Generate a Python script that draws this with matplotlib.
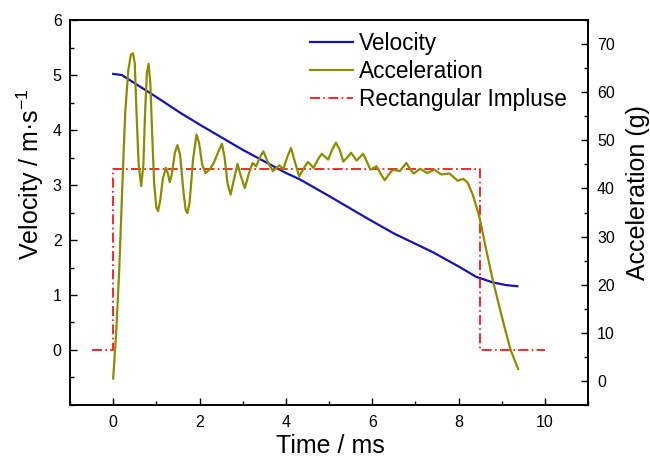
import numpy as np
import matplotlib.pyplot as plt
from matplotlib.ticker import MultipleLocator

plt.rcParams['font.family'] = ['Liberation Sans', 'DejaVu Sans']
plt.rcParams['mathtext.default'] = 'regular'
plt.rcParams['axes.unicode_minus'] = False

# velocity (m/s)
t_vel = [0, 0.2, 0.5, 1.0, 1.56, 2.0, 3.0, 4.0, 4.33, 5.0, 5.87, 6.5, 7.4, 8.0, 8.41, 8.79, 9.1, 9.36]
vel = [5.02, 5.0, 4.85, 4.6, 4.31, 4.1, 3.64, 3.22, 3.1, 2.8, 2.4, 2.12, 1.78, 1.52, 1.33, 1.23, 1.18, 1.16]

# acceleration (g)
t_acc = [0, 0.07, 0.14, 0.21, 0.28, 0.35, 0.41, 0.46, 0.50, 0.54, 0.59, 0.65, 0.70, 0.74, 0.78,
         0.82, 0.86, 0.90, 0.95, 1.00, 1.04, 1.09, 1.15, 1.22, 1.27, 1.31, 1.36, 1.43, 1.49, 1.55,
         1.62, 1.68, 1.72, 1.77, 1.85, 1.93, 1.99, 2.06, 2.14, 2.24, 2.33, 2.43, 2.52, 2.58, 2.65,
         2.72, 2.80, 2.88, 2.96, 3.05, 3.14, 3.23, 3.31, 3.40, 3.48, 3.58, 3.70, 3.85, 3.94, 4.03,
         4.12, 4.21, 4.31, 4.40, 4.51, 4.64, 4.74, 4.83, 4.98, 5.07, 5.16, 5.25, 5.33, 5.43, 5.51,
         5.64, 5.79, 5.88, 5.96, 6.10, 6.20, 6.29, 6.39, 6.48, 6.64, 6.79, 6.88, 6.96, 7.11, 7.27,
         7.44, 7.60, 7.79, 7.98, 8.11, 8.21, 8.33, 8.48, 8.64, 8.79, 8.94, 9.07, 9.20, 9.38]
acc = [0.5, 10, 23, 40, 56, 64.5, 67.8, 68.1, 66, 56, 45, 40.5, 45, 56, 64,
       65.9, 62, 52, 41, 36, 35.3, 37.5, 42, 44.3, 43, 41.3, 43, 47.5, 49.0, 47,
       40, 35.5, 34.9, 37, 46, 51.2, 49.5, 45, 43.2, 44, 45.3, 47.5, 49.3, 46.5, 41,
       38.7, 42, 45.1, 42.5, 40.1, 43, 45.3, 44.6, 46.5, 47.7, 45.5, 43.6, 44.8, 43.9, 46.5,
       48.4, 45.5, 42.5, 44, 45.5, 44.3, 46, 47.2, 46.0, 48, 49.5, 48, 45.6, 46.5, 47.4,
       45.8, 47.2, 45.5, 43.9, 44.6, 43, 41.7, 43, 43.9, 43.6, 45.3, 44, 43.1, 44.1, 43.2,
       43.9, 42.9, 43.1, 41.6, 42.0, 41.2, 38.7, 34.2, 27.3, 21.1, 15.6, 11, 6.6, 2.5]

# rectangular impulse (left axis units)
t_rect = [-0.5, 0, 0, 8.5, 8.5, 10]
rect = [0, 0, 3.3, 3.3, 0, 0]

fig = plt.figure(figsize=(6.5, 4.57), dpi=100)
ax = fig.add_axes([0.1077, 0.1138, 0.797, 0.8424])
ax2 = ax.twinx()

l1, = ax.plot(t_vel, vel, color='#1414b0', lw=1.6, label='Velocity')
l3, = ax.plot(t_rect, rect, color='#ff0000', lw=1.2, ls=(0, (6, 2, 1, 2)), label='Rectangular Impluse')
l2, = ax2.plot(t_acc, acc, color='#8c8c00', lw=1.6, label='Acceleration')

ax.set_xlim(-1, 11)
ax.set_ylim(-1, 6)
ax2.set_ylim(-5, 75)

ax.xaxis.set_major_locator(MultipleLocator(2))
ax.xaxis.set_minor_locator(MultipleLocator(1))
ax.set_yticks(range(0, 7))
ax.yaxis.set_minor_locator(MultipleLocator(0.5))
ax2.set_yticks(range(0, 80, 10))
ax2.yaxis.set_minor_locator(MultipleLocator(5))

for a in (ax, ax2):
    a.tick_params(which='both', direction='in', labelsize=11.5, width=1)
    a.tick_params(which='major', length=5)
    a.tick_params(which='minor', length=3)
    for s in a.spines.values():
        s.set_linewidth(1.2)
ax.tick_params(which='both', right=False, top=False)
ax2.tick_params(which='both', left=False, top=False)
ax.tick_params(axis='x', which='major', pad=7)
ax.tick_params(axis='y', which='major', pad=6)
ax2.tick_params(axis='y', which='major', pad=6.5)

ax.set_xlabel('Time / ms', fontsize=18, va='center')
ax.xaxis.set_label_coords(0.502, -0.107)
ax.set_ylabel('Velocity / m·s$^{-1}$', fontsize=18, va='center')
ax.yaxis.set_label_coords(-0.077, 0.60)
ax2.set_ylabel('Acceleration (g)', fontsize=18, va='center')
ax2.yaxis.set_label_coords(1.097, 0.553)

ax2.legend([l1, l2, l3], ['Velocity', 'Acceleration', 'Rectangular Impluse'],
           loc='upper left', bbox_to_anchor=(0.463, 0.969), frameon=False,
           fontsize=16.3, handlelength=1.9, handletextpad=0.25, labelspacing=0.22,
           borderaxespad=0, borderpad=0)

fig.savefig('out.png', dpi=100)
